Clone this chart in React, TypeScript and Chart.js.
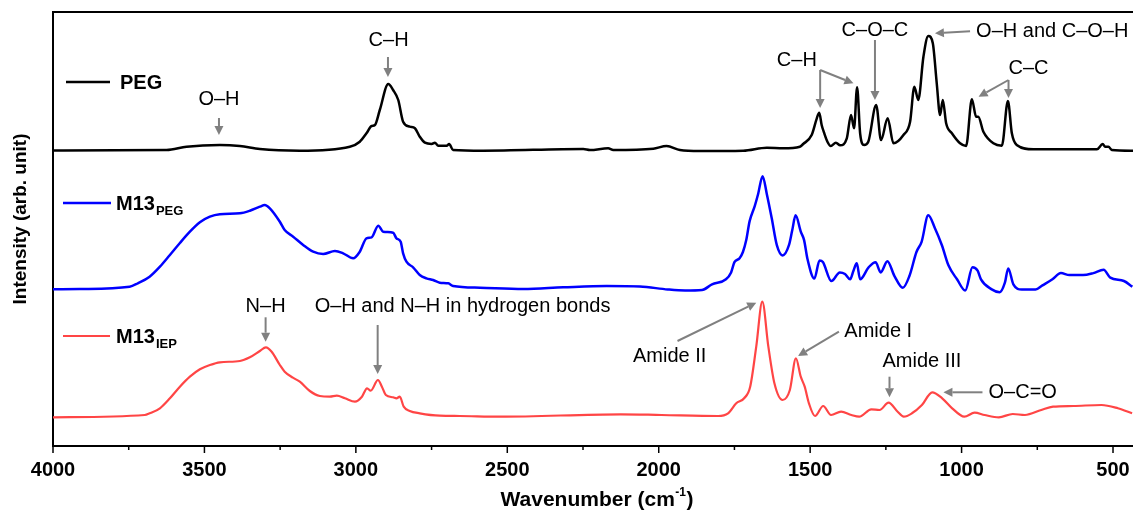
import React, { useEffect, useRef } from 'react';
import { Chart, registerables } from 'chart.js';

Chart.register(...registerables);

// ---- data (wavenumber in cm^-1, intensity in arb. units incl. offsets) ----
const pegWn = [4000, 3625, 3559, 3449, 3383, 3317, 3185, 3020, 2987, 2965, 2948, 2937, 2921, 2893, 2877, 2860, 2844, 2822, 2805, 2789, 2772, 2750, 2739, 2728, 2700, 2692, 2679, 2580, 2249, 2227, 2167, 2150, 2018, 1974, 1930, 1864, 1721, 1643, 1589, 1534, 1523, 1495, 1478, 1470, 1462, 1454, 1443, 1432, 1415, 1401, 1379, 1365, 1355, 1345, 1335, 1322, 1308, 1282, 1266, 1244, 1225, 1192, 1170, 1156, 1143, 1126, 1110, 1095, 1082, 1071, 1062, 1051, 1032, 1005, 985, 966, 952, 945, 928, 895, 867, 847, 834, 818, 763, 553, 534, 526, 515, 504, 434];
const pegInt = [295.5, 296, 299.3, 301, 300, 297, 295.3, 299.3, 304.3, 312.7, 320, 321, 336, 362, 356, 346, 324.3, 319.3, 317.7, 309.3, 303.3, 302, 303.3, 300.3, 300.3, 302, 296, 295.3, 297, 296, 297.7, 296, 297.3, 300, 296, 295, 295.3, 298.3, 297.7, 299.3, 302, 311, 327.7, 333.3, 321, 313.3, 304.3, 300, 303.3, 300.7, 307.7, 331, 317.7, 358.7, 312.7, 301, 304.3, 341, 306, 327.7, 302.7, 311, 324.3, 359.3, 346, 389.3, 410, 402.7, 362.7, 331, 346, 322.7, 312.7, 302.7, 300, 346.7, 329.3, 329.3, 314.3, 302.7, 300.3, 345, 312.7, 301, 296.7, 296.7, 302, 299.3, 299.3, 296, 295.3];

const m13PegWn = [4000, 3912, 3747, 3720, 3681, 3647, 3614, 3581, 3548, 3515, 3482, 3449, 3383, 3350, 3317, 3301, 3284, 3251, 3235, 3207, 3174, 3141, 3108, 3069, 3042, 3009, 2987, 2965, 2948, 2926, 2910, 2877, 2866, 2852, 2844, 2833, 2811, 2789, 2767, 2745, 2723, 2695, 2679, 2590, 2447, 2315, 2172, 2062, 1970, 1913, 1857, 1824, 1778, 1761, 1750, 1733, 1722, 1711, 1700, 1683, 1672, 1657, 1643, 1627, 1610, 1591, 1570, 1559, 1548, 1531, 1520, 1509, 1486, 1469, 1458, 1430, 1402, 1385, 1368, 1357, 1346, 1335, 1307, 1284, 1267, 1245, 1222, 1194, 1172, 1149, 1132, 1110, 1088, 1065, 1043, 1015, 988, 964, 947, 936, 902, 874, 857, 846, 829, 801, 756, 733, 700, 672, 644, 599, 565, 531, 509, 464, 436];
const m13PegInt = [156.7, 157, 159.3, 162.7, 169.3, 179.3, 191, 203, 214.3, 223.7, 229.3, 231.7, 232.7, 235.3, 239.3, 241, 237.7, 224.3, 216, 209.3, 201, 194.3, 192, 195, 192.7, 187.7, 194.3, 207.7, 208.7, 220.3, 214.3, 213.3, 207.7, 204.3, 192.7, 184.3, 178.7, 171, 167.7, 166, 163.3, 162.7, 160, 158.3, 157, 158.7, 160, 159.5, 156.5, 155.5, 156, 161.6, 166.7, 173.6, 183.8, 187.8, 194, 205.9, 224.6, 239.9, 251.8, 269.8, 251.8, 228, 200.8, 190.6, 200.8, 216, 230.7, 214.4, 205.9, 187.2, 167.4, 185.5, 184, 165, 173.6, 172, 166.7, 175.3, 182.7, 166.7, 178.7, 183.8, 173.6, 184.8, 170.2, 158.2, 170.2, 194, 204.2, 230.7, 217.8, 200.8, 180.4, 166.7, 155.5, 178.7, 175.3, 166.7, 156.9, 153.8, 163.3, 177.6, 161.7, 156.5, 156.5, 160.6, 166.7, 172.9, 170.9, 170.9, 172.9, 176.3, 168.4, 165, 159.3];

const m13IepWn = [4000, 3697, 3681, 3647, 3614, 3581, 3548, 3515, 3482, 3449, 3383, 3350, 3317, 3297, 3278, 3251, 3235, 3208, 3185, 3152, 3119, 3086, 3063, 3036, 3003, 2980, 2963, 2951, 2927, 2914, 2901, 2877, 2866, 2855, 2842, 2822, 2789, 2723, 2657, 2524, 2125, 1991, 1804, 1771, 1744, 1718, 1698, 1678, 1658, 1638, 1618, 1591, 1567, 1547, 1531, 1518, 1504, 1484, 1457, 1431, 1398, 1364, 1338, 1298, 1271, 1241, 1211, 1191, 1164, 1131, 1097, 1064, 1031, 991, 957, 924, 877, 831, 791, 737, 698, 631, 538, 484, 437];
const m13IepInt = [28.7, 31, 32.7, 37.7, 47.7, 59.3, 69.3, 76.7, 81, 83.7, 85, 88.7, 95, 98.7, 94.3, 81, 74.3, 68.3, 64.3, 55, 50, 49.3, 50.3, 47.7, 44.3, 49.3, 57.7, 55.3, 66, 59.3, 51, 48.7, 47.7, 49.3, 39.3, 35, 32.7, 30.3, 30, 29.3, 31.7, 31, 30, 32.7, 42.7, 47.7, 59.3, 99.3, 144.3, 99.3, 62.7, 46, 56, 87.7, 69.3, 59.3, 42.7, 30, 40, 31, 34.3, 31, 29.3, 36.7, 36, 43.3, 34.3, 29.3, 32.7, 41, 53.7, 47.7, 37.7, 29.3, 33.3, 31, 28.7, 32, 31, 36, 39.3, 40, 41, 37.7, 32.7];

const majorTicks = [4000, 3500, 3000, 2500, 2000, 1500, 1000, 500];
const minorTicks = [3750, 3250, 2750, 2250, 1750, 1250, 750];

// annotation texts: [text, wavenumber, intensity, align]
const annotationLabels: [string, number, number, CanvasTextAlign][] = [
  ['O–H', 3452, 347, 'center'],
  ['C–H', 2892, 406, 'center'],
  ['C–H', 1544, 386, 'center'],
  ['C–O–C', 1286, 416, 'center'],
  ['O–H and C–O–H', 952, 414.3, 'left'],
  ['C–C', 779, 377.7, 'center'],
  ['N–H', 3298, 140, 'center'],
  ['O–H and N–H in hydrogen bonds', 3136, 140, 'left'],
  ['Amide II', 1964, 89.3, 'center'],
  ['Amide I', 1387, 114.3, 'left'],
  ['Amide III', 1131, 84.3, 'center'],
  ['O–C=O', 911, 53.7, 'left'],
];

// arrows: [fromWn, fromInt, toWn, toInt]
const annotationArrows: [number, number, number, number][] = [
  [3452, 328, 3452, 311],
  [2894, 389, 2894, 369],
  [1467, 376, 1467, 338],
  [1467, 376, 1357, 362.7],
  [1286, 406, 1286, 346],
  [972, 414.7, 1088, 412.7],
  [845, 366, 845, 348],
  [845, 366, 944, 349.3],
  [3298, 128.7, 3298, 104.3],
  [2928, 121, 2928, 72],
  [1938, 105, 1678, 143.3],
  [1405, 114.3, 1540, 90],
  [1238, 69.3, 1238, 48.7],
  [931, 53.7, 1060, 53.7],
];

const seriesNames = ['PEG', 'M13', 'M13'];
const seriesSubs = ['', 'PEG', 'IEP'];
const seriesColors = ['#000000', '#0000ff', '#ff4545'];

const FONT = '"Liberation Sans", Arial, Helvetica, sans-serif';

function toPoints(xs: number[], ys: number[]) {
  const n = Math.min(xs.length, ys.length);
  const out: { x: number; y: number }[] = [];
  for (let i = 0; i < n; i++) out.push({ x: xs[i], y: ys[i] });
  return out;
}

function drawArrow(ctx: CanvasRenderingContext2D, x1: number, y1: number, x2: number, y2: number) {
  const ang = Math.atan2(y2 - y1, x2 - x1);
  const hl = 9;
  const hw = 4.5;
  const bx = x2 - hl * Math.cos(ang);
  const by = y2 - hl * Math.sin(ang);
  ctx.beginPath();
  ctx.moveTo(x1, y1);
  ctx.lineTo(bx, by);
  ctx.stroke();
  ctx.beginPath();
  ctx.moveTo(x2, y2);
  ctx.lineTo(bx + hw * Math.sin(ang), by - hw * Math.cos(ang));
  ctx.lineTo(bx - hw * Math.sin(ang), by + hw * Math.cos(ang));
  ctx.closePath();
  ctx.fill();
}

const overlayPlugin = {
  id: 'overlay',
  afterDraw(chart: any) {
    const { ctx, chartArea: ca } = chart;
    const xs = chart.scales.x;
    const ys = chart.scales.y;
    ctx.save();

    // top frame line
    ctx.strokeStyle = '#000';
    ctx.lineWidth = 2;
    ctx.beginPath();
    ctx.moveTo(ca.left, ca.top);
    ctx.lineTo(ca.right + 2, ca.top);
    ctx.stroke();

    // tick marks
    ctx.lineWidth = 1.5;
    majorTicks.forEach((v) => {
      const px = xs.getPixelForValue(v);
      ctx.beginPath();
      ctx.moveTo(px, ca.bottom);
      ctx.lineTo(px, ca.bottom + 7);
      ctx.stroke();
    });
    minorTicks.forEach((v) => {
      const px = xs.getPixelForValue(v);
      ctx.beginPath();
      ctx.moveTo(px, ca.bottom);
      ctx.lineTo(px, ca.bottom + 4);
      ctx.stroke();
    });

    // annotation arrows
    ctx.strokeStyle = '#808080';
    ctx.fillStyle = '#808080';
    ctx.lineWidth = 2;
    annotationArrows.forEach(([a, b, c, d]) => {
      drawArrow(ctx, xs.getPixelForValue(a), ys.getPixelForValue(b), xs.getPixelForValue(c), ys.getPixelForValue(d));
    });

    // annotation labels
    ctx.fillStyle = '#000';
    ctx.font = `20px ${FONT}`;
    ctx.textBaseline = 'middle';
    annotationLabels.forEach(([t, wn, v, al]) => {
      ctx.textAlign = al;
      ctx.fillText(t, xs.getPixelForValue(wn), ys.getPixelForValue(v));
    });

    // legend
    const legendRows = [
      { lx0: 66, lx1: 110, ly: 82, tx: 120, lw: 2.5 },
      { lx0: 63, lx1: 111, ly: 203, tx: 116, lw: 2.5 },
      { lx0: 63, lx1: 110, ly: 336, tx: 116, lw: 2 },
    ];
    legendRows.forEach((r, i) => {
      ctx.strokeStyle = seriesColors[i];
      ctx.lineWidth = r.lw;
      ctx.beginPath();
      ctx.moveTo(r.lx0, r.ly);
      ctx.lineTo(r.lx1, r.ly);
      ctx.stroke();
      ctx.fillStyle = '#000';
      ctx.textAlign = 'left';
      ctx.textBaseline = 'alphabetic';
      ctx.font = `bold 20px ${FONT}`;
      const base = r.ly + 7;
      ctx.fillText(seriesNames[i], r.tx, base);
      if (seriesSubs[i]) {
        const w = ctx.measureText(seriesNames[i]).width;
        ctx.font = `bold 13px ${FONT}`;
        ctx.fillText(seriesSubs[i], r.tx + w + 1, base + 5);
      }
    });

    // x axis title with superscript
    ctx.fillStyle = '#000';
    ctx.textBaseline = 'alphabetic';
    ctx.textAlign = 'left';
    const main1 = 'Wavenumber (cm';
    const sup = '-1';
    const main2 = ')';
    ctx.font = `bold 21px ${FONT}`;
    const w1 = ctx.measureText(main1).width;
    const w3 = ctx.measureText(main2).width;
    ctx.font = `bold 12px ${FONT}`;
    const w2 = ctx.measureText(sup).width;
    const total = w1 + w2 + w3 + 1;
    const cx = (ca.left + ca.right) / 2 + 4;
    let x0 = cx - total / 2;
    const baseY = 506;
    ctx.font = `bold 21px ${FONT}`;
    ctx.fillText(main1, x0, baseY);
    ctx.font = `bold 12px ${FONT}`;
    ctx.fillText(sup, x0 + w1 + 0.5, baseY - 10);
    ctx.font = `bold 21px ${FONT}`;
    ctx.fillText(main2, x0 + w1 + w2 + 1, baseY);

    // y axis title
    ctx.save();
    ctx.translate(21, 219);
    ctx.rotate(-Math.PI / 2);
    ctx.font = `bold 19px ${FONT}`;
    ctx.textAlign = 'center';
    ctx.textBaseline = 'middle';
    ctx.fillText('Intensity (arb. unit)', 0, 0);
    ctx.restore();

    ctx.restore();
  },
};

export default function App() {
  const canvasRef = useRef<HTMLCanvasElement | null>(null);

  useEffect(() => {
    const canvas = canvasRef.current;
    if (!canvas) return;
    const seriesData = [
      toPoints(pegWn, pegInt),
      toPoints(m13PegWn, m13PegInt),
      toPoints(m13IepWn, m13IepInt),
    ];
    const chart = new Chart(canvas, {
      type: 'line',
      data: {
        datasets: seriesData.map((d, i) => ({
          label: seriesNames[i] + seriesSubs[i],
          data: d,
          borderColor: seriesColors[i],
          backgroundColor: seriesColors[i],
          borderWidth: i === 2 ? 2.2 : 2.5,
          pointRadius: 0,
          cubicInterpolationMode: 'monotone' as const,
          fill: false,
        })),
      },
      options: {
        animation: false,
        responsive: false,
        devicePixelRatio: 1,
        layout: { padding: { top: 12, right: 0, left: 0, bottom: 0 } },
        plugins: {
          legend: { display: false },
          tooltip: { enabled: false },
        },
        scales: {
          x: {
            type: 'linear',
            reverse: true,
            min: 434,
            max: 4000,
            grid: { display: false, drawTicks: false },
            border: { display: true, color: '#000', width: 2 },
            ticks: {
              autoSkip: false,
              maxRotation: 0,
              padding: 12,
              color: '#000',
              font: { family: FONT, size: 20, weight: 'bold' },
              callback: (v: any) => (majorTicks.includes(Number(v)) ? String(v) : ''),
            },
            afterBuildTicks: (s: any) => {
              s.ticks = majorTicks.map((v) => ({ value: v }));
            },
            afterFit: (s: any) => {
              s.height = 66;
              s.paddingLeft = 0;
              s.paddingRight = 0;
            },
          },
          y: {
            type: 'linear',
            min: 0,
            max: 434,
            grid: { display: false, drawTicks: false },
            border: { display: true, color: '#000', width: 2 },
            ticks: { display: false },
            afterFit: (s: any) => {
              s.width = 53;
              s.paddingTop = 0;
              s.paddingBottom = 0;
            },
          },
        },
      },
      plugins: [overlayPlugin],
    });
    return () => chart.destroy();
  }, []);

  return (
    <div style={{ position: 'absolute', left: 0, top: 0, width: 1133, height: 512, background: '#fff' }}>
      <canvas ref={canvasRef} width={1133} height={512} />
    </div>
  );
}
